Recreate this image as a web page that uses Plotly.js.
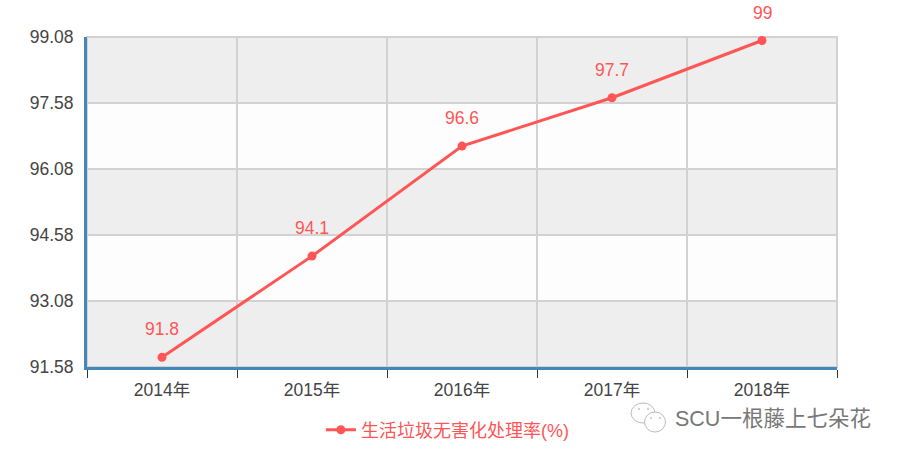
<!DOCTYPE html>
<html><head><meta charset="utf-8">
<script src="https://cdn.plot.ly/plotly-3.0.1.min.js"></script>
<style>html,body{margin:0;padding:0;background:#fff}#c{width:898px;height:458px}</style>
</head><body><div id="c"></div>
<script>
const years=['2014年','2015年','2016年','2017年','2018年'];
const rates=[91.8,94.1,96.6,97.7,99];
const seriesName='生活垃圾无害化处理率(%)';
const yTicks=[91.58,93.08,94.58,96.08,97.58,99.08];
const yTickText=['91.58','93.08','94.58','96.08','97.58','99.08'];
const watermark='SCU一根藤上七朵花';
const RED='#ff5555',BLUE='#4488bb',TXT='#444444',GRID='#d2d2d2';
const FONT='"Liberation Sans","Noto Sans CJK SC",sans-serif';
const W=898,H=458,L=87,T=37,PW=750,PH=330;
const bands=[];
for(let i=0;i<yTicks.length-1;i++){
  bands.push({type:'rect',layer:'below',xref:'paper',x0:0,x1:1,yref:'y',y0:yTicks[i],y1:yTicks[i+1],
    line:{width:0},fillcolor:i%2===0?'#eeeeee':'#fdfdfd'});
}
function px(x){return (x-L)/PW}
function py(y){return 1-(y-T)/PH}
function bubble(cx,cy,rx,ry){
  return {type:'circle',xref:'paper',yref:'paper',x0:px(cx-rx),x1:px(cx+rx),y0:py(cy+ry),y1:py(cy-ry),
    fillcolor:'#ffffff',line:{color:'#bbbbbb',width:1}};
}
function eye(cx,cy){
  return {type:'circle',xref:'paper',yref:'paper',x0:px(cx-0.8),x1:px(cx+0.8),y0:py(cy+0.8),y1:py(cy-0.8),
    fillcolor:'#999999',line:{width:0}};
}
const frame={type:'rect',layer:'below',xref:'paper',yref:'paper',x0:0,x1:1,y0:0,y1:1,line:{color:GRID,width:2},fillcolor:'rgba(0,0,0,0)'};
const shapes=bands.concat([frame,bubble(643,413,12,10),bubble(655,422,10.5,10),eye(639,409),eye(648,409),eye(651,418),eye(660,418)]);
const labels=years.map((y,i)=>({x:y,y:rates[i],xref:'x',yref:'y',text:String(rates[i]),showarrow:false,
  yshift:28,font:{family:FONT,size:17.5,color:RED},xanchor:'center',yanchor:'middle'}));
labels.push({xref:'paper',yref:'paper',x:px(673),y:py(419),xanchor:'left',yanchor:'middle',showarrow:false,
  text:watermark,font:{family:FONT,size:21.5,color:'#777777'}});
Plotly.newPlot('c',[{
  type:'scatter',mode:'lines+markers',x:years,y:rates,name:seriesName,cliponaxis:false,
  line:{color:RED,width:3},marker:{color:RED,size:9}
}],{
  width:W,height:H,
  margin:{l:L,r:W-L-PW,t:T,b:H-T-PH,pad:0},
  paper_bgcolor:'#ffffff',plot_bgcolor:'rgba(0,0,0,0)',
  font:{family:FONT,size:17.5,color:TXT},
  showlegend:true,
  legend:{orientation:'h',xref:'container',yref:'container',x:0.4982,xanchor:'center',y:1-430/H,yanchor:'middle',font:{family:FONT,size:18,color:RED},itemwidth:30,bgcolor:'rgba(0,0,0,0)'},
  xaxis:{type:'category',categoryorder:'array',categoryarray:years,range:[-0.5,4.5],tickson:'boundaries',
    showgrid:true,gridcolor:GRID,gridwidth:2,ticks:'outside',ticklen:8,tickcolor:'#333333',tickwidth:1,
    ticklabelstandoff:5,showline:true,linecolor:BLUE,linewidth:3,zeroline:false,tickfont:{family:FONT,size:17.5,color:TXT},fixedrange:true},
  yaxis:{range:[91.58,99.08],tickmode:'array',tickvals:yTicks,ticktext:yTickText,
    showgrid:true,gridcolor:GRID,gridwidth:2,ticks:'',ticklabelstandoff:7,
    showline:true,linecolor:BLUE,linewidth:3,zeroline:false,tickfont:{family:FONT,size:17.5,color:TXT},fixedrange:true},
  shapes:shapes,
  annotations:labels
},{displayModeBar:false,staticPlot:true});
</script></body></html>
